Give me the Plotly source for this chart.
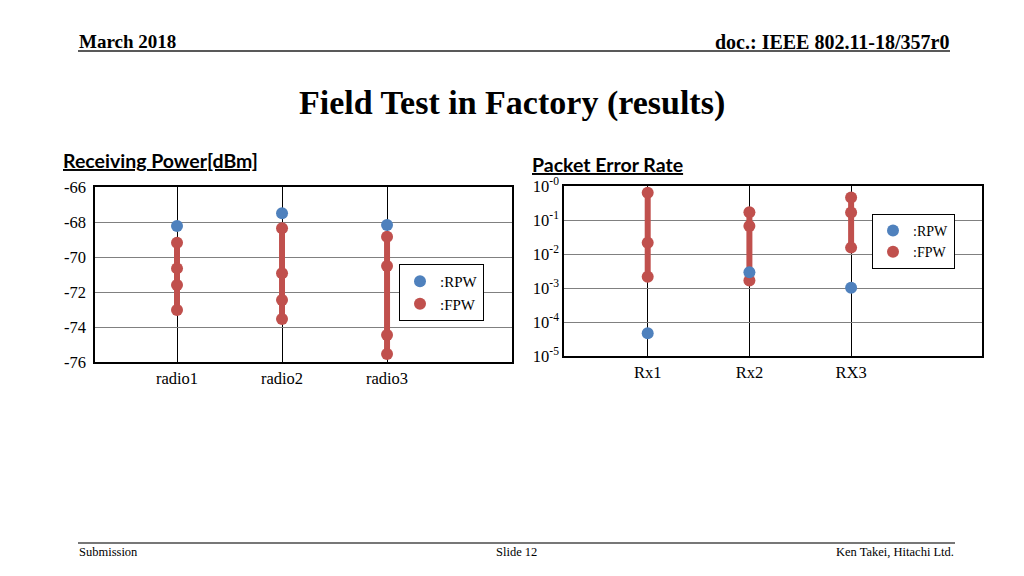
import plotly.graph_objects as go

# ---- data ----
radios = ["radio1", "radio2", "radio3"]
rpw_dbm = [-68.23, -67.5, -68.17]
fpw_dbm = [
    [-69.18, -70.65, -71.6, -73.03],
    [-68.36, -70.93, -72.46, -73.54],
    [-68.84, -70.51, -74.46, -75.54],
]
left_yticks = [-66, -68, -70, -72, -74, -76]

rx = ["Rx1", "Rx2", "RX3"]
rpw_per = [4.7e-5, 0.0029, 0.00102]
fpw_per = [
    [0.635, 0.0215, 0.00215],
    [0.168, 0.0667, 0.00165],
    [0.46, 0.165, 0.0154],
]
per_tickvals = [1, 0.1, 0.01, 0.001, 0.0001, 0.00001]
per_ticktext = ["10<sup>-0</sup>", "10<sup>-1</sup>", "10<sup>-2</sup>",
                "10<sup>-3</sup>", "10<sup>-4</sup>", "10<sup>-5</sup>"]

BLUE = "#4F81BD"
RED = "#C0504D"
SERIF = "Liberation Serif, Times New Roman, serif"
SANS = "Lato, Liberation Sans, sans-serif"


def fpw_xy(groups):
    xs, ys = [], []
    for i, g in enumerate(groups):
        xs += [i] * len(g) + [None]
        ys += list(g) + [None]
    return xs, ys


fig = go.Figure()

# left chart
x, y = fpw_xy(fpw_dbm)
fig.add_trace(go.Scatter(x=x, y=y, mode="lines+markers", xaxis="x", yaxis="y",
                         line=dict(color=RED, width=6),
                         marker=dict(color=RED, size=12), showlegend=False))
fig.add_trace(go.Scatter(x=list(range(len(radios))), y=rpw_dbm, mode="markers",
                         xaxis="x", yaxis="y",
                         marker=dict(color=BLUE, size=12), showlegend=False))
# right chart
x, y = fpw_xy(fpw_per)
fig.add_trace(go.Scatter(x=x, y=y, mode="lines+markers", xaxis="x2", yaxis="y2",
                         line=dict(color=RED, width=6),
                         marker=dict(color=RED, size=12), showlegend=False))
fig.add_trace(go.Scatter(x=list(range(len(rx))), y=rpw_per, mode="markers",
                         xaxis="x2", yaxis="y2",
                         marker=dict(color=BLUE, size=12), showlegend=False))

# legend entries
for lg, xa, ya in [("legend", "x", "y"), ("legend2", "x2", "y2")]:
    fig.add_trace(go.Scatter(x=[None], y=[None], mode="markers", name=":RPW",
                             xaxis=xa, yaxis=ya, legend=lg,
                             marker=dict(color=BLUE, size=12)))
    fig.add_trace(go.Scatter(x=[None], y=[None], mode="markers", name=":FPW",
                             xaxis=xa, yaxis=ya, legend=lg,
                             marker=dict(color=RED, size=12)))

W, H = 1024, 576


def px(v):
    return v / W


def py(v):
    return 1 - v / H


axis_common = dict(showline=True, mirror=True, linecolor="black", linewidth=1.5,
                   ticks="", zeroline=False, automargin=False,
                   tickfont=dict(family=SERIF, size=16.5, color="black"))

fig.update_layout(
    width=W, height=H, margin=dict(l=0, r=0, t=0, b=0, pad=0), autosize=False,
    paper_bgcolor="white", plot_bgcolor="white",
    xaxis=dict(domain=[px(95), px(512)], anchor="y", range=[-0.781, 3.19],
               tickvals=[0, 1, 2], ticktext=radios, showgrid=True,
               gridcolor="black", gridwidth=1, **axis_common),
    yaxis=dict(domain=[py(362), py(187)], anchor="x", range=[-76, -66],
               tickvals=left_yticks, ticktext=[str(v) for v in left_yticks],
               showgrid=True, gridcolor="#808080", gridwidth=1,
               ticklabelstandoff=4, **axis_common),
    xaxis2=dict(domain=[px(564), px(982)], anchor="y2", range=[-0.823, 3.287],
                tickvals=[0, 1, 2], ticktext=rx, showgrid=True,
                gridcolor="black", gridwidth=1, **axis_common),
    yaxis2=dict(domain=[py(356), py(186)], anchor="x2", type="log", range=[-5, 0],
                tickvals=per_tickvals, ticktext=per_ticktext,
                showgrid=True, gridcolor="#808080", gridwidth=1, **axis_common),
    legend=dict(x=px(399), y=py(264), xanchor="left", yanchor="top",
                bordercolor="black", borderwidth=1, bgcolor="white",
                font=dict(family=SERIF, size=15, color="black"),
                itemwidth=30, tracegroupgap=0),
    legend2=dict(x=px(872), y=py(214), xanchor="left", yanchor="top",
                 bordercolor="black", borderwidth=1, bgcolor="white",
                 font=dict(family=SERIF, size=14, color="black"),
                 itemwidth=30, tracegroupgap=0),
    showlegend=True,
)

# text annotations
ann = [
    dict(text="<b>March 2018</b>", x=px(77), y=py(41), xanchor="left", yanchor="middle",
         font=dict(family=SERIF, size=19, color="black")),
    dict(text="<b>doc.: IEEE 802.11-18/357r0</b>", x=px(951), y=py(42), xanchor="right",
         yanchor="middle", font=dict(family=SERIF, size=20, color="black")),
    dict(text="<b>Field Test in Factory (results)</b>", x=px(512), y=py(103), xanchor="center",
         yanchor="middle", font=dict(family=SERIF, size=34, color="black")),
    dict(text="<b><u>Receiving Power[dBm]</u></b>", x=px(61), y=py(161), xanchor="left",
         yanchor="middle", font=dict(family=SANS, size=19.5, color="black")),
    dict(text="<b><u>Packet Error Rate</u></b>", x=px(530), y=py(164), xanchor="left",
         yanchor="middle", font=dict(family=SANS, size=19.5, color="black")),
    dict(text="Submission", x=px(77), y=py(552), xanchor="left", yanchor="middle",
         font=dict(family=SERIF, size=12.5, color="black")),
    dict(text="Slide 12", x=px(516), y=py(552), xanchor="center", yanchor="middle",
         font=dict(family=SERIF, size=12.5, color="black")),
    dict(text="Ken Takei, Hitachi Ltd.", x=px(956), y=py(552), xanchor="right", yanchor="middle",
         font=dict(family=SERIF, size=12.5, color="black")),
]
for a in ann:
    a.update(xref="paper", yref="paper", showarrow=False)
fig.update_layout(annotations=ann)

fig.update_layout(shapes=[
    dict(type="line", xref="paper", yref="paper", x0=px(78), x1=px(950), y0=py(51), y1=py(51),
         line=dict(color="#222222", width=1.5)),
    dict(type="line", xref="paper", yref="paper", x0=px(78), x1=px(955), y0=py(543), y1=py(543),
         line=dict(color="#777777", width=2)),
])

fig.write_html("out.html", config={"displayModeBar": False},
               post_script="document.body.style.margin='0';document.body.style.overflow='hidden';")
